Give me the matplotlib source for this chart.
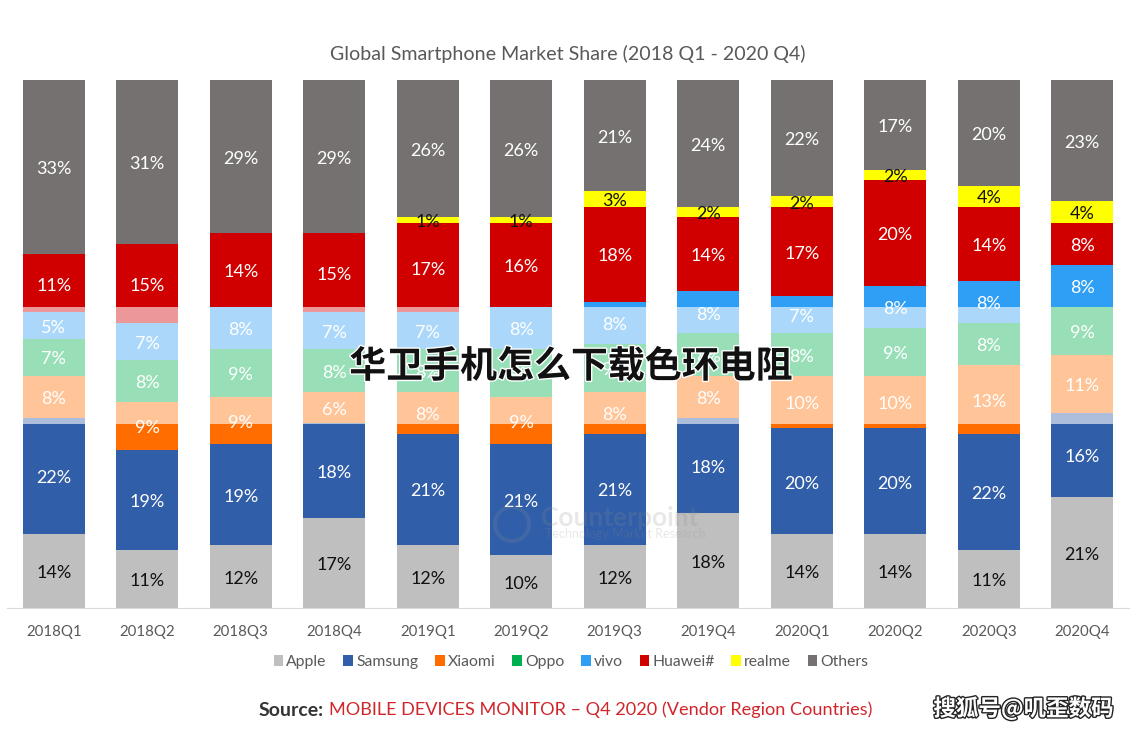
import matplotlib
matplotlib.use("Agg")
import matplotlib.pyplot as plt
import matplotlib.patheffects as pe
import numpy as np

quarters = ["2018Q1","2018Q2","2018Q3","2018Q4","2019Q1","2019Q2","2019Q3","2019Q4","2020Q1","2020Q2","2020Q3","2020Q4"]
apple   = [14,11,12,17,12,10,12,18,14,14,11,21]
samsung = [22,19,19,18,21,21,21,18,20,20,22,16]
xiaomi  = [8,9,9,6,8,9,8,8,10,10,13,11]
oppo    = [7,8,9,8,8,9,9,8,8,9,8,9]
vivo    = [5,7,8,7,7,8,8,8,7,8,8,8]
huawei  = [11,15,14,15,17,16,18,14,17,20,14,8]
realme  = [0,0,0,0,1,1,3,2,2,2,4,4]
others  = [33,31,29,29,26,26,21,24,22,17,20,23]

series = [("Apple",apple,"#BFBFBF","#111111"),
          ("Samsung",samsung,"#315EA8","white"),
          ("Xiaomi",xiaomi,"#FF6D00","white"),
          ("Oppo",oppo,"#00B050","white"),
          ("vivo",vivo,"#2E9FF5","white"),
          ("Huawei#",huawei,"#D00000","white"),
          ("realme",realme,"#FFFF00","#111111"),
          ("Others",others,"#767171","white")]

W, H = 1138, 732
fig = plt.figure(figsize=(W/100, H/100), dpi=100, facecolor="white")
plt.rcParams["font.family"] = ["Lato", "DejaVu Sans"]
ax = fig.add_axes([7/W, (H-608)/H, (1129-7)/W, (608-80)/H])

def fx(px): return px/W
def fy(py): return 1-py/H

x = np.arange(len(quarters))
bottom = np.zeros(len(quarters))
for name, vals, col, tc in series:
    v = np.array(vals, float)
    ax.bar(x, v, 0.663, bottom=bottom, color=col, label=name, zorder=2, linewidth=0)
    for xi, b, val in zip(x, bottom, v):
        if val > 0:
            ax.annotate(f"{int(val)}%", (xi, b+val/2), xytext=(0, -1.6), textcoords="offset points",
                        ha="center", va="center", color=tc, fontsize=13, zorder=5)
    bottom += v

# pale translucent band across the middle of the picture
ax.axhspan(34.85, 57.0, color="white", alpha=0.6, lw=0, zorder=3)

ax.set_xlim(-0.5, 11.5)
ax.set_ylim(0, 100)
ax.set_yticks([])
ax.set_xticks(x, quarters)
ax.tick_params(axis="x", length=0, pad=12.5, labelsize=10.8, labelcolor="#595959")
for s in ["top","left","right"]:
    ax.spines[s].set_visible(False)
ax.spines["bottom"].set_color("#D9D9D9")
ax.patch.set_visible(False)

fig.text(fx(568), fy(54), "Global Smartphone Market Share (2018 Q1 - 2020 Q4)",
         ha="center", va="center", fontsize=14.1, color="#595959")

ax.legend(loc="center", bbox_to_anchor=(fx(571), fy(662)), bbox_transform=fig.transFigure,
          ncol=8, frameon=False, fontsize=11.3, labelcolor="#595959",
          handlelength=0.6, handleheight=0.7, handletextpad=0.2, columnspacing=1.08,
          borderpad=0, borderaxespad=0)

# faint Counterpoint watermark
fig.text(fx(620), fy(518), "Counterpoint", ha="center", va="center", fontsize=19,
         fontweight="bold", color="#8C8C8C", alpha=0.2, zorder=6)
fig.text(fx(625), fy(534), "Technology Market Research", ha="center", va="center", fontsize=9,
         color="#8C8C8C", alpha=0.2, zorder=6)
wm = plt.Circle((512, H-524), 17, transform=None, fill=False, ec="#A0A0A0", lw=3, alpha=0.15, zorder=6)
fig.add_artist(wm)

fig.text(fx(259), fy(710), "Source:", ha="left", va="center", fontsize=14,
         fontweight="bold", color="#333333")
fig.text(fx(329), fy(710), "MOBILE DEVICES MONITOR – Q4 2020 (Vendor Region Countries)",
         ha="left", va="center", fontsize=13.1, color="#D0262B")

fig.text(fx(570.5), fy(367), "华卫手机怎么下载色环电阻", ha="center", va="center",
         fontsize=26.6, fontweight="bold", family=["Noto Sans CJK SC","DejaVu Sans"], color="#111111",
         zorder=10, path_effects=[pe.withStroke(linewidth=2, foreground="white")])

fig.text(fx(1023.5), fy(709), "搜狐号@叽歪数码", ha="center", va="center",
         fontsize=16.2, fontweight="bold", family=["Noto Sans CJK SC","DejaVu Sans"], color="white",
         zorder=10, path_effects=[pe.withStroke(linewidth=2, foreground="#222222")])

fig.savefig("out.png", dpi=100, facecolor="white")
